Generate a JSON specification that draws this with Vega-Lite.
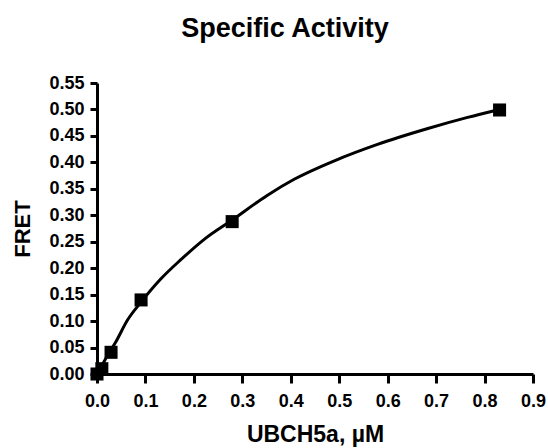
{
  "$schema": "https://vega.github.io/schema/vega-lite/v6.json",
  "autosize": "none",
  "width": 436,
  "height": 291,
  "padding": {"left": 97, "top": 83, "right": 15, "bottom": 74},
  "background": "white",
  "title": {
    "text": "Specific Activity",
    "font": "Liberation Sans",
    "fontSize": 27,
    "fontWeight": "bold",
    "color": "black",
    "anchor": "middle",
    "dx": -30,
    "offset": 31
  },
  "datasets": {
    "pts": [
      {"x": 0.0, "y": 0.0},
      {"x": 0.01, "y": 0.01},
      {"x": 0.029, "y": 0.041},
      {"x": 0.091, "y": 0.14},
      {"x": 0.279, "y": 0.288},
      {"x": 0.831, "y": 0.499}
    ],
    "fit": [
      {"x": 0.0, "y": 0.0},
      {"x": 0.01, "y": 0.016},
      {"x": 0.025, "y": 0.04},
      {"x": 0.039, "y": 0.061},
      {"x": 0.063, "y": 0.102},
      {"x": 0.091, "y": 0.136},
      {"x": 0.132, "y": 0.18},
      {"x": 0.173, "y": 0.216},
      {"x": 0.222, "y": 0.255},
      {"x": 0.279, "y": 0.291},
      {"x": 0.352, "y": 0.338},
      {"x": 0.407, "y": 0.368},
      {"x": 0.49, "y": 0.403},
      {"x": 0.579, "y": 0.434},
      {"x": 0.683, "y": 0.464},
      {"x": 0.765, "y": 0.485},
      {"x": 0.831, "y": 0.5}
    ]
  },
  "encoding": {
    "x": {
      "field": "x", "type": "quantitative",
      "scale": {"domain": [0, 0.9], "nice": false, "zero": false},
      "axis": {
        "title": "UBCH5a, µM",
        "values": [0, 0.1, 0.2, 0.3, 0.4, 0.5, 0.6, 0.7, 0.8, 0.9],
        "format": ".1f",
        "grid": false,
        "labelFlush": false,
        "labelOverlap": false,
        "domainColor": "black", "domainWidth": 3,
        "tickColor": "black", "tickWidth": 3, "tickSize": 9,
        "labelFont": "Liberation Sans", "labelFontSize": 18, "labelFontWeight": "bold", "labelColor": "black",
        "labelPadding": 9,
        "titleFont": "Liberation Sans", "titleFontSize": 23, "titleFontWeight": "bold", "titleColor": "black",
        "titlePadding": 13
      }
    },
    "y": {
      "field": "y", "type": "quantitative",
      "scale": {"domain": [0, 0.55], "nice": false},
      "axis": {
        "title": "FRET",
        "values": [0, 0.05, 0.1, 0.15, 0.2, 0.25, 0.3, 0.35, 0.4, 0.45, 0.5, 0.55],
        "format": ".2f",
        "grid": false,
        "labelFlush": false,
        "labelOverlap": false,
        "domainColor": "black", "domainWidth": 3,
        "tickColor": "black", "tickWidth": 3, "tickSize": 7,
        "labelFont": "Liberation Sans", "labelFontSize": 18, "labelFontWeight": "bold", "labelColor": "black",
        "labelPadding": 6,
        "titleFont": "Liberation Sans", "titleFontSize": 22, "titleFontWeight": "bold", "titleColor": "black",
        "titlePadding": 14
      }
    }
  },
  "layer": [
    {
      "data": {"name": "fit"},
      "mark": {"type": "line", "color": "black", "strokeWidth": 3, "interpolate": "monotone"}
    },
    {
      "data": {"name": "pts"},
      "mark": {"type": "point", "shape": "square", "filled": true, "color": "black", "opacity": 1, "size": 170}
    }
  ],
  "config": {"view": {"stroke": null}}
}
